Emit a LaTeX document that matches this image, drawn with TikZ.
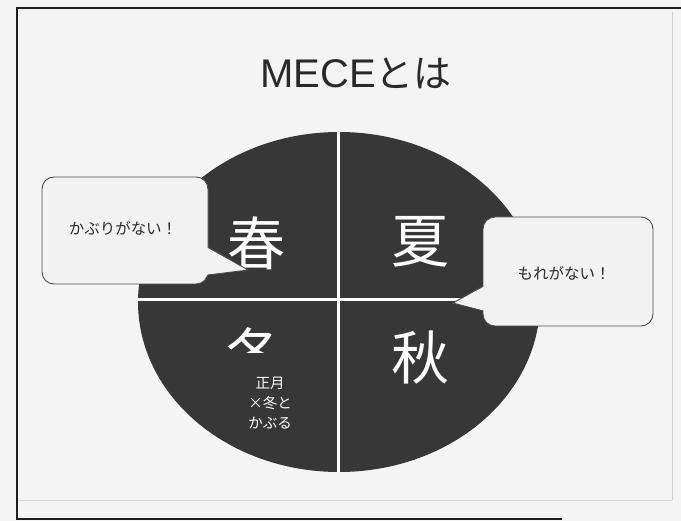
\documentclass[tikz,border=0pt]{standalone}
\usepackage{fontspec}
\setmainfont{Noto Sans CJK JP}
\newfontfamily\latinf{Liberation Sans}
\definecolor{bgc}{HTML}{F4F4F4}
\definecolor{darkc}{HTML}{373737}
\definecolor{framec}{HTML}{1E1E1E}
\definecolor{calloutfill}{HTML}{F2F2F2}
\definecolor{txtc}{HTML}{2A2A2A}
\tikzset{
  bubble/.style={fill=calloutfill, draw=black!70, line width=0.9pt, rounded corners=12pt},
  bubbleedge/.style={draw=black!70, line width=0.9pt},
  season/.style={text=white, font=\fontsize{58}{58}\selectfont, inner sep=0pt},
  saytext/.style={text=txtc, font=\fontsize{15.5}{16}\selectfont, inner sep=0pt},
  notetext/.style={text=white, font=\fontsize{14.5}{20}\selectfont, align=center, inner sep=0pt},
  sep/.style={white, line width=3pt}
}
\begin{document}
\begin{tikzpicture}[x=1pt,y=-1pt]
\useasboundingbox (0,0) rectangle (681,521);
\fill[bgc] (0,0) rectangle (681,521);
% faint scan lines
\draw[black!18, line width=1pt] (672,12) -- (672,500);
\draw[black!15, line width=1pt] (17,501) -- (672,501);
% frame
\draw[framec, line width=2pt] (681,8.5) -- (17,8.5) -- (17,519.5) -- (562,519.5);
% title
\node[text=txtc, inner sep=0pt] (title) at (356,73) {{\latinf\fontsize{40}{40}\selectfont MECE}{\fontsize{38}{40}\selectfont とは}};
% ellipse
\fill[darkc] (339,302) ellipse [x radius=201pt, y radius=170pt];
\begin{scope}
  \clip (339,302) ellipse [x radius=201pt, y radius=170pt];
  \draw[sep] (338,100) -- (338,500);
  \draw[sep] (100,300) -- (600,300);
\end{scope}
% season kanji
\node[season] (haru) at (256,243) {春};
\node[season] (natsu) at (420,242) {夏};
\node[season] (aki) at (420,358) {秋};
\begin{scope}
  \clip (200,300) rectangle (320,353);
  \node[season] (fuyu) at (254,355) {冬};
\end{scope}
\node[notetext] (note) at (270,403) {正月\\×冬と\\かぶる};
% left callout
\draw[bubble] (42,177) rectangle (208,284);
\fill[calloutfill] (206,247) -- (248,270) -- (206,275) -- cycle;
\draw[bubbleedge] (208,247) -- (248,270) -- (208,275);
\node[saytext] (sayL) at (123,228) {かぶりがない！};
% right callout
\draw[bubble] (483,217) rectangle (653,326);
\fill[calloutfill] (485,286) -- (453,303) -- (485,311) -- cycle;
\draw[bubbleedge] (483,286) -- (453,303) -- (483,311);
\node[saytext] (sayR) at (564,273) {もれがない！};
\end{tikzpicture}
\end{document}
